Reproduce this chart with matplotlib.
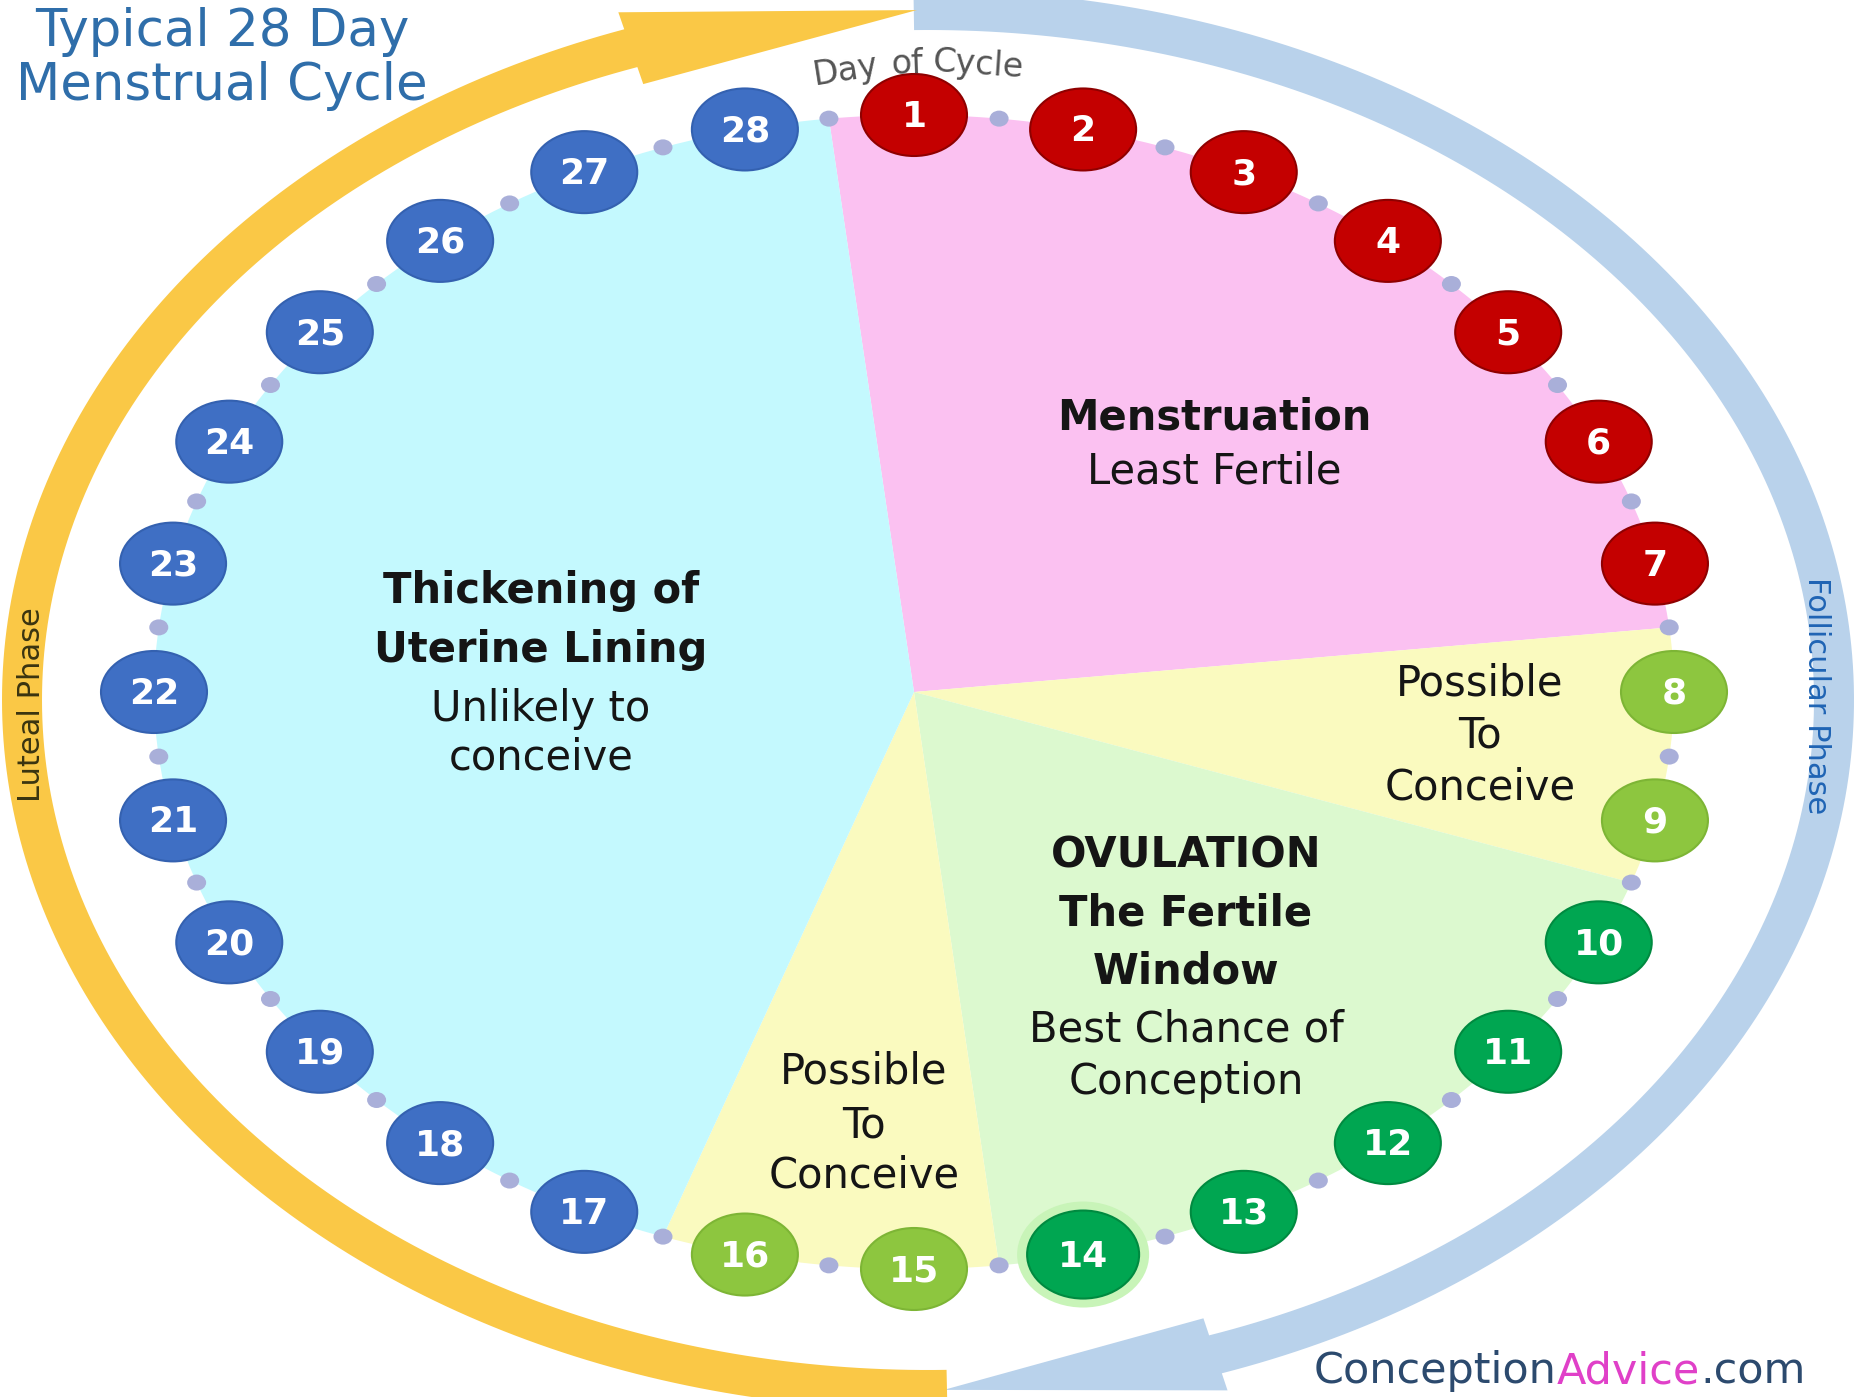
import numpy as np
import matplotlib.pyplot as plt
from matplotlib.patches import Ellipse, Polygon

# ---- data -------------------------------------------------------------
DAYS = list(range(1, 29))
PHASE_FIRST_DAY = [1, 8, 10, 15, 17]
PHASE_LAST_DAY = [7, 9, 14, 16, 28]
PHASE_TITLES = [["Menstruation"], [], ["OVULATION", "The Fertile", "Window"], [],
                ["Thickening of", "Uterine Lining"]]
PHASE_NOTES = [["Least Fertile"], ["Possible", "To", "Conceive"],
               ["Best Chance of", "Conception"], ["Possible", "To", "Conceive"],
               ["Unlikely to", "conceive"]]
PEAK_DAY = 14
TITLE = ["Typical 28 Day", "Menstrual Cycle"]
ARC_LABELS = ["Follicular Phase", "Luteal Phase"]
BRAND = ["Conception", "Advice", ".com"]

# ---- style ------------------------------------------------------------
FILL = ["#fbc1f1", "#fafabf", "#dcf9cf", "#fafabf", "#c4f9fe"]
NODE = ["#c40000", "#8dc63f", "#00a651", "#8dc63f", "#3f6fc4"]
EDGE = ["#8f0000", "#7db535", "#008a40", "#7db535", "#3461b0"]
ORANGE, BLUE = "#fac846", "#b9d2eb"

W, H = 1864, 1397
CX, CY, RX, RY = 914, 692, 760, 577          # ring of day nodes
OX, OY, ORX, ORY = 928, 700, 906, 690          # outer phase arrows
STEP = 360 / len(DAYS)


def ring(phi, cx=CX, cy=CY, rx=RX, ry=RY):
    phi = np.radians(phi)
    return cx + rx * np.sin(phi), cy - ry * np.cos(phi)


def arrow_band(start, base, tip, half=20, head=38):
    phis = np.linspace(start, base, 200)
    outer = [ring(p, OX, OY, ORX + half, ORY + half) for p in phis]
    inner = [ring(p, OX, OY, ORX - half, ORY - half) for p in phis[::-1]]
    pts = outer + [ring(base, OX, OY, ORX + head, ORY + head),
                   ring(tip, OX, OY, ORX, ORY),
                   ring(base, OX, OY, ORX - head, ORY - head)] + inner
    return pts


fig = plt.figure(figsize=(W / 100, H / 100), dpi=100)
ax = fig.add_axes([0, 0, 1, 1])
ax.set_xlim(0, W)
ax.set_ylim(H, 0)
ax.axis("off")

# phase wedges
for p, (d0, d1) in enumerate(zip(PHASE_FIRST_DAY, PHASE_LAST_DAY)):
    a0 = (d0 - 1) * STEP - STEP / 2
    a1 = (d1 - 1) * STEP + STEP / 2
    pts = [(CX, CY)] + [ring(a) for a in np.linspace(a0, a1, 120)]
    ax.add_patch(Polygon(pts, closed=True, fc=FILL[p], ec="none", zorder=1))

# outer arrows
ax.add_patch(Polygon(arrow_band(-0.9, 161.5, 179.0), closed=True, fc=BLUE, ec="none", zorder=2))
ax.add_patch(Polygon(arrow_band(178.8, 340.85, 359.3), closed=True, fc=ORANGE, ec="none", zorder=2))

# connector dots
for d in DAYS:
    x, y = ring((d - 1) * STEP + STEP / 2)
    ax.add_patch(Ellipse((x, y), 19, 16, fc="#a9afd9", ec="none", zorder=3))

# day nodes
for d in DAYS:
    p = next(i for i, (a, b) in enumerate(zip(PHASE_FIRST_DAY, PHASE_LAST_DAY)) if a <= d <= b)
    x, y = ring((d - 1) * STEP)
    w, h = (112, 88) if d == PEAK_DAY else (106, 82)
    if d == PEAK_DAY:
        ax.add_patch(Ellipse((x, y), w + 20, h + 18, fc="#c8f4b8", ec="none", zorder=3.5))
    ax.add_patch(Ellipse((x, y), w, h, fc=NODE[p], ec=EDGE[p], lw=1.5, zorder=4))
    ax.text(x, y + 2, str(d), color="white", fontsize=26, fontweight="bold",
            ha="center", va="center", zorder=5)

# phase labels
label_xy = [(1214, [418, 472]),
            (1480, [684, 736, 787]),
            (1186, [856, 914, 972, 1029, 1082]),
            (864, [1072, 1125, 1176]),
            (541, [591, 650, 709, 758])]
for p, (x, ys) in enumerate(label_xy):
    lines = [(t, "bold") for t in PHASE_TITLES[p]] + [(t, "normal") for t in PHASE_NOTES[p]]
    for (txt, wt), y in zip(lines, ys):
        ax.text(x, y, txt, fontsize=30, fontweight=wt, color="#151515",
                ha="center", va="center", zorder=6)

# title
ax.text(222, 32, TITLE[0], fontsize=37, color="#2f6eaa", ha="center", va="center")
ax.text(222, 86, TITLE[1], fontsize=37, color="#2f6eaa", ha="center", va="center")

# "Day of Cycle" along the top of the ring
for word, x, y, rot in [("Day", 846, 71, 9), ("of", 907, 64, 2), ("Cycle", 978, 65, -4)]:
    ax.text(x, y, word, fontsize=24, color="#555555", ha="center", va="center",
            rotation=rot, rotation_mode="anchor", zorder=6)

# arc labels
ax.text(1816, 696, ARC_LABELS[0], fontsize=22, color="#1f64b4", rotation=-90,
        ha="center", va="center", zorder=6)
ax.text(32, 705, ARC_LABELS[1], fontsize=22, color="#3a3410", rotation=90,
        ha="center", va="center", zorder=6)

# brand
t1 = ax.text(1314, 1371, BRAND[0], fontsize=31, color="#2c4a6e", ha="left", va="center")
t2 = ax.annotate(BRAND[1], xy=(1, 0), xycoords=t1, fontsize=31, color="#e040c8",
                 ha="left", va="bottom")
ax.annotate(BRAND[2], xy=(1, 0), xycoords=t2, fontsize=31, color="#2c4a6e",
            ha="left", va="bottom")

fig.savefig("out.png", dpi=100)
